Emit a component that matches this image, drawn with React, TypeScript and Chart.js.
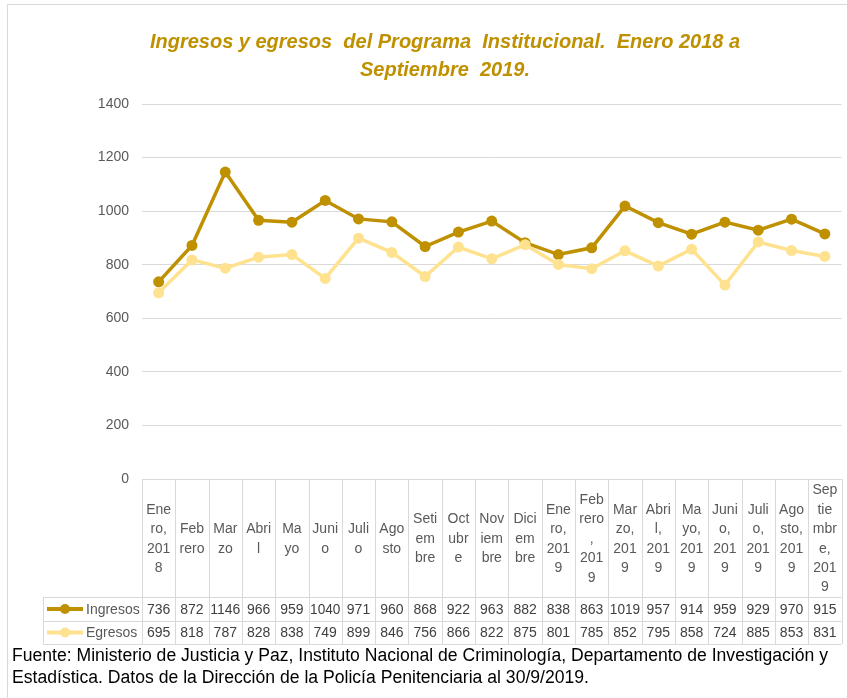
import { useEffect, useRef } from "react";
import { Chart, registerables } from "chart.js";

Chart.register(...registerables);

const categories: string[][] = [
  ["Ene", "ro,", "201", "8"],
  ["Feb", "rero"],
  ["Mar", "zo"],
  ["Abri", "l"],
  ["Ma", "yo"],
  ["Juni", "o"],
  ["Juli", "o"],
  ["Ago", "sto"],
  ["Seti", "em", "bre"],
  ["Oct", "ubr", "e"],
  ["Nov", "iem", "bre"],
  ["Dici", "em", "bre"],
  ["Ene", "ro,", "201", "9"],
  ["Feb", "rero", ",", "201", "9"],
  ["Mar", "zo,", "201", "9"],
  ["Abri", "l,", "201", "9"],
  ["Ma", "yo,", "201", "9"],
  ["Juni", "o,", "201", "9"],
  ["Juli", "o,", "201", "9"],
  ["Ago", "sto,", "201", "9"],
  ["Sep", "tie", "mbr", "e,", "201", "9"],
];

const ingresos = [736, 872, 1146, 966, 959, 1040, 971, 960, 868, 922, 963, 882, 838, 863, 1019, 957, 914, 959, 929, 970, 915];
const egresos = [695, 818, 787, 828, 838, 749, 899, 846, 756, 866, 822, 875, 801, 785, 852, 795, 858, 724, 885, 853, 831];

const seriesNames = ["Ingresos", "Egresos"];
const seriesColors = ["#BF9000", "#FFE28F"];

const titleLines = [
  "Ingresos y egresos  del Programa  Institucional.  Enero 2018 a",
  "Septiembre  2019.",
];
const footerLines = [
  "Fuente: Ministerio de Justicia y Paz, Instituto Nacional de Criminología, Departamento de Investigación y",
  "Estadística. Datos de la Dirección de la Policía Penitenciaria al 30/9/2019.",
];

const FONT = '"Liberation Sans", Arial, sans-serif';

const tablePlugin = {
  id: "dataTable",
  afterDraw(chart: any) {
    const ctx: CanvasRenderingContext2D = chart.ctx;
    const xs = chart.scales.x;
    const area = chart.chartArea;
    const n = categories.length;
    const colW = (area.right - area.left) / n;
    const top = area.bottom;
    const headBottom = top + 118;
    const row1 = headBottom + 24;
    const row2 = row1 + 23;
    const tableLeft = 43;
    ctx.save();

    // outer frame
    ctx.strokeStyle = "#d9d9d9";
    ctx.lineWidth = 1;
    ctx.beginPath();
    ctx.moveTo(7.5, 700);
    ctx.lineTo(7.5, 4.5);
    ctx.lineTo(850, 4.5);
    ctx.stroke();

    // title
    ctx.fillStyle = "#BF9000";
    ctx.font = `italic bold 20px ${FONT}`;
    ctx.textAlign = "center";
    ctx.textBaseline = "middle";
    ctx.fillText(titleLines[0], 445, 42, 594);
    ctx.fillText(titleLines[1], 445, 70, 176);

    // table grid
    ctx.strokeStyle = "#d9d9d9";
    ctx.beginPath();
    const r = Math.round;
    ctx.moveTo(area.left, r(top) + 0.5);
    ctx.lineTo(area.right, r(top) + 0.5);
    for (const yy of [headBottom, row1, row2]) {
      ctx.moveTo(tableLeft, r(yy) + 0.5);
      ctx.lineTo(area.right, r(yy) + 0.5);
    }
    for (let i = 0; i <= n; i++) {
      const cx = i < n ? xs.getPixelForValue(i) - colW / 2 : xs.getPixelForValue(n - 1) + colW / 2;
      ctx.moveTo(r(cx) + 0.5, top);
      ctx.lineTo(r(cx) + 0.5, row2);
    }
    ctx.moveTo(tableLeft + 0.5, headBottom);
    ctx.lineTo(tableLeft + 0.5, row2);
    ctx.stroke();

    // header labels
    ctx.fillStyle = "#595959";
    ctx.font = `14px ${FONT}`;
    ctx.textAlign = "center";
    ctx.textBaseline = "middle";
    const lh = 19.4;
    const hc = (top + headBottom) / 2 + 1;
    categories.forEach((lines, i) => {
      const cx = xs.getPixelForValue(i);
      const start = hc - ((lines.length - 1) * lh) / 2;
      lines.forEach((t, k) => ctx.fillText(t, cx, start + k * lh, colW - 2));
    });

    // values
    ctx.fillStyle = "#404040";
    ctx.font = `14px ${FONT}`;
    const rows = [ingresos, egresos];
    const rowCenters = [(headBottom + row1) / 2 + 1, (row1 + row2) / 2 + 1];
    rows.forEach((vals, ri) => {
      vals.forEach((v, i) => {
        ctx.fillText(String(v), xs.getPixelForValue(i), rowCenters[ri], colW - 3);
      });
      // legend key
      const yc = rowCenters[ri] - 1;
      ctx.strokeStyle = seriesColors[ri];
      ctx.lineWidth = 4;
      ctx.beginPath();
      ctx.moveTo(47, yc);
      ctx.lineTo(83, yc);
      ctx.stroke();
      ctx.fillStyle = seriesColors[ri];
      ctx.beginPath();
      ctx.arc(65, yc, 5, 0, Math.PI * 2);
      ctx.fill();
      ctx.fillStyle = "#595959";
      ctx.textAlign = "left";
      ctx.fillText(seriesNames[ri], 86, rowCenters[ri], 54);
      ctx.textAlign = "center";
      ctx.fillStyle = "#404040";
    });

    // footer
    ctx.fillStyle = "#000000";
    ctx.font = `17.6px ${FONT}`;
    ctx.textAlign = "left";
    ctx.fillText(footerLines[0], 12, 656, 816);
    ctx.fillText(footerLines[1], 12, 678, 578);

    ctx.restore();
  },
};

export default function App() {
  const ref = useRef<HTMLCanvasElement | null>(null);
  useEffect(() => {
    if (!ref.current) return;
    const chart = new Chart(ref.current, {
      type: "line",
      data: {
        labels: categories.map((c) => c.join("")),
        datasets: [
          {
            label: seriesNames[0],
            data: ingresos,
            borderColor: seriesColors[0],
            backgroundColor: seriesColors[0],
            borderWidth: 3.5,
            pointRadius: 5.5,
            pointHoverRadius: 5.5,
            pointBorderWidth: 0,
            tension: 0,
          },
          {
            label: seriesNames[1],
            data: egresos,
            borderColor: seriesColors[1],
            backgroundColor: seriesColors[1],
            borderWidth: 3.5,
            pointRadius: 5.5,
            pointHoverRadius: 5.5,
            pointBorderWidth: 0,
            tension: 0,
          },
        ].reverse(),
      },
      options: {
        responsive: false,
        animation: false,
        layout: { padding: { top: 104, left: 0, right: 5, bottom: 0 } },
        plugins: {
          legend: { display: false },
          title: { display: false },
          tooltip: { enabled: false },
        },
        scales: {
          x: {
            offset: true,
            grid: { display: false },
            border: { display: false },
            ticks: { display: false },
            afterFit: (s: any) => {
              s.height = 219;
            },
          },
          y: {
            min: 0,
            max: 1400,
            ticks: {
              stepSize: 200,
              color: "#595959",
              font: { family: FONT, size: 14 },
              padding: 13,
              callback: (v: any) => String(v),
            },
            grid: { color: "#d9d9d9", drawTicks: false, lineWidth: 1 },
            border: { display: false },
            afterFit: (s: any) => {
              s.width = 142;
            },
          },
        },
      },
      plugins: [tablePlugin],
    });
    return () => chart.destroy();
  }, []);
  return (
    <div style={{ position: "absolute", left: 0, top: 0, width: 847, height: 698, background: "#fff" }}>
      <canvas ref={ref} width={847} height={698} style={{ width: 847, height: 698 }} />
    </div>
  );
}
